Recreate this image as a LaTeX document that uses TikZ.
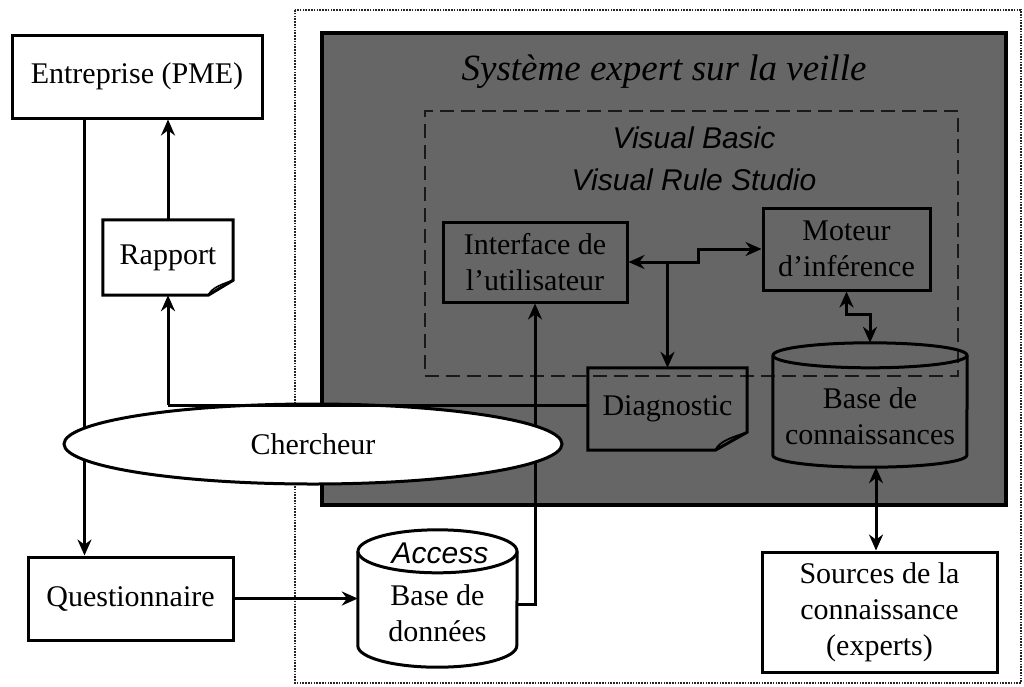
\documentclass[tikz,border=0pt]{standalone}
\usepackage{fontspec}
\setmainfont{Liberation Serif}
\newfontfamily\sansfont{Liberation Sans}
\usetikzlibrary{arrows.meta,shapes.geometric,calc}
\begin{document}
\begin{tikzpicture}[x=1pt,y=-1pt,
  txt/.style={font=\fontsize{30}{36}\selectfont, align=center, inner sep=0pt},
  box/.style={txt, draw, line width=3pt, rectangle},
  con/.style={line width=3pt},
  tip/.tip={Stealth[length=16pt,width=14pt]},
  arr/.style={con, -tip},
  arr2/.style={con, tip-tip},
  sanstxt/.style={txt, font=\sansfont\itshape\fontsize{30}{42}\selectfont},
]
\useasboundingbox (0,0) rectangle (1024,686);
\fill[white] (0,0) rectangle (1024,686);

% outer dotted frame
\draw[line width=1.8pt, dash pattern=on 1.6pt off 1.2pt, black!85] (295,10) rectangle (1021,683);

% grey system box
\node[draw, line width=4pt, fill=black!60, minimum width=684pt, minimum height=472pt, inner sep=0pt] (sys) at (664,269) {};
\node[font=\fontsize{37}{40}\selectfont\itshape, anchor=base, inner sep=0pt] (title) at (664,80) {Système expert sur la veille};

% inner dashed frame
\node[draw, line width=2.8pt, dash pattern=on 14pt off 7pt, black!90, minimum width=533pt, minimum height=265pt, inner sep=0pt] (tools) at (691.5,243.5) {};
\node[sanstxt] (vb) at (694,159) {Visual Basic\\Visual Rule Studio};

% inner components
\node[box, minimum width=184pt, minimum height=80pt] (iface) at (535,262) {Interface de\\l'utilisateur};
\node[box, minimum width=167pt, minimum height=82pt] (mot) at (846.5,249) {Moteur\\d'inférence};

\node[txt, minimum width=159pt, minimum height=82pt] (diag) at (667.5,409) {Diagnostic};
\draw[con] (diag.north west) -- (diag.north east) -- ([yshift=18pt]diag.south east) -- ([xshift=-32pt]diag.south east) -- (diag.south west) -- cycle;
\draw[line width=1.8pt] ([xshift=-32pt]diag.south east) .. controls ([xshift=-27pt,yshift=10pt]diag.south east) and ([xshift=-14pt,yshift=13pt]diag.south east) .. ([yshift=18pt]diag.south east);

\node[minimum width=194pt, minimum height=124pt, inner sep=0pt] (kb) at (870,405) {};
\draw[con] ([yshift=-12.5pt]kb.north west) -- ([yshift=12pt]kb.south west) arc[start angle=180,end angle=360,x radius=97pt,y radius=12pt] -- ([yshift=-12.5pt]kb.north east);
\draw[con] ([yshift=-12.5pt]kb.north) ellipse[x radius=97pt, y radius=12.5pt];
\node[txt] (kbt) at (870,416) {Base de\\connaissances};

% left side
\node[box, minimum width=250pt, minimum height=83pt] (ent) at (137,76.5) {Entreprise (PME)};
\node[txt, minimum width=130pt, minimum height=75pt] (rap) at (168,257.5) {};
\draw[con, fill=white] (rap.north west) -- (rap.north east) -- ([yshift=15pt]rap.south east) -- ([xshift=-25pt]rap.south east) -- (rap.south west) -- cycle;
\node[txt] (rapt) at (rap.center) {Rapport};
\draw[line width=1.6pt] ([xshift=-25pt]rap.south east) .. controls ([xshift=-21pt,yshift=8pt]rap.south east) and ([xshift=-11pt,yshift=11pt]rap.south east) .. ([yshift=15pt]rap.south east);

\node[box, minimum width=205pt, minimum height=83pt] (quest) at (130.5,598.5) {Questionnaire};

% access database
\node[minimum width=159pt, minimum height=137pt, inner sep=0pt] (acc) at (437.5,598.5) {};
\draw[con, fill=white] ([yshift=-21.5pt]acc.north west) -- ([yshift=21.5pt]acc.south west) arc[start angle=180,end angle=360,x radius=79.5pt,y radius=21.5pt] -- ([yshift=-21.5pt]acc.north east);
\draw[con, fill=white] ([yshift=-21.5pt]acc.north) ellipse[x radius=79.5pt, y radius=21.5pt];
\node[sanstxt] (acct) at (440,553) {Access};
\node[txt] (accb) at (437.5,613) {Base de\\données};

% sources
\node[box, minimum width=235pt, minimum height=120pt] (src) at (879.5,612) {Sources de la\\connaissance\\(experts)};

% connectors (under the ellipse)
\coordinate (cj) at (168,405);
\draw[arr] ([xshift=74pt]ent.south west) -- ([xshift=58pt]quest.north west);
\draw[arr] (rap.north) -- (rap.north |- ent.south);
\draw[arr] (cj) -- (rap.south);
\draw[arr] ([yshift=-6pt]acc.east) -| (iface.south);
\draw[arr] (quest.east) -- (quest.east -| acc.west);
\draw[arr2] (iface.east) -- ++(70,0) |- (mot.west);
\draw[arr] (diag.north |- iface.east) -- (diag.north);
\draw[arr2] (mot.south) -- ++(0,23) -| (kb.north);
\draw[arr2] ([xshift=6pt]kb.south) -- ([xshift=-3.5pt]src.north);

% chercheur
\node[txt, ellipse, draw, fill=white, line width=3pt, minimum width=498pt, minimum height=80pt] (cher) at (313,444) {Chercheur};
\draw[con] (cj) -- (cj -| diag.west);
\end{tikzpicture}
\end{document}
